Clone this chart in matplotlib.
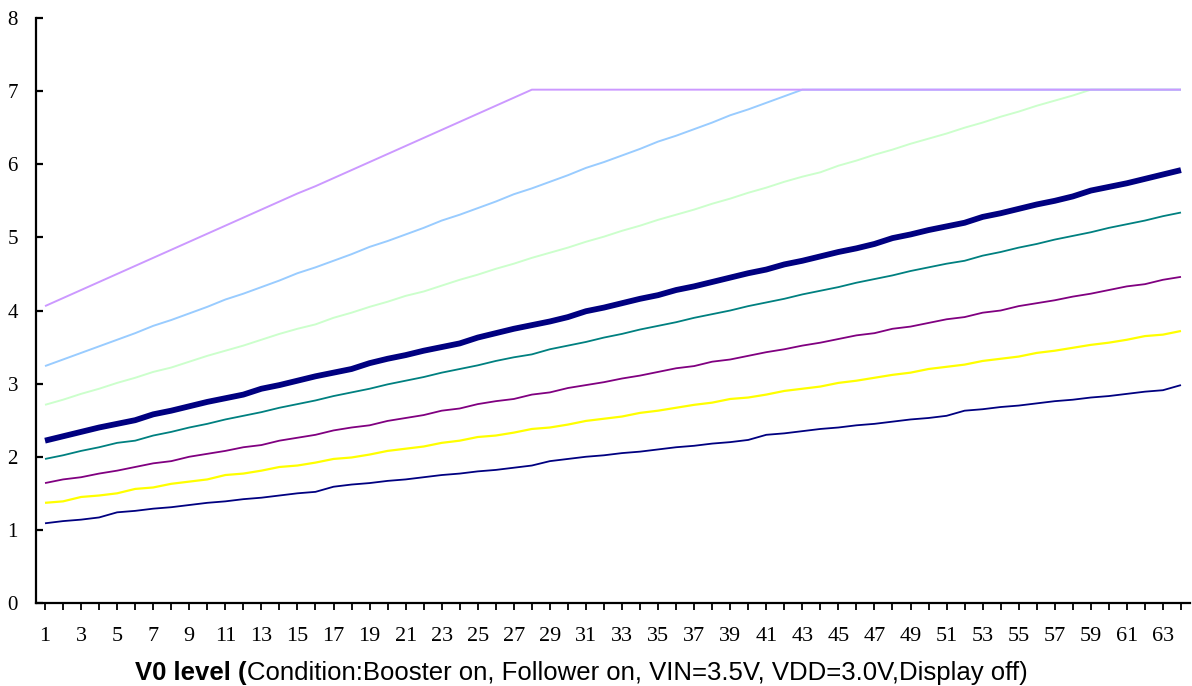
import matplotlib
matplotlib.use("Agg")
import matplotlib.pyplot as plt
from matplotlib.ticker import FixedLocator, FixedFormatter

levels = list(range(1, 65))

s_navy_thin = [1.09, 1.12, 1.14, 1.17, 1.24, 1.26, 1.29, 1.31, 1.34, 1.37, 1.39, 1.42, 1.44, 1.47, 1.50, 1.52,
               1.59, 1.62, 1.64, 1.67, 1.69, 1.72, 1.75, 1.77, 1.80, 1.82, 1.85, 1.88, 1.94, 1.97, 2.00, 2.02,
               2.05, 2.07, 2.10, 2.13, 2.15, 2.18, 2.20, 2.23, 2.30, 2.32, 2.35, 2.38, 2.40, 2.43, 2.45, 2.48,
               2.51, 2.53, 2.56, 2.63, 2.65, 2.68, 2.70, 2.73, 2.76, 2.78, 2.81, 2.83, 2.86, 2.89, 2.91, 2.98]
s_yellow = [1.37, 1.39, 1.45, 1.47, 1.50, 1.56, 1.58, 1.63, 1.66, 1.69, 1.75, 1.77, 1.81, 1.86, 1.88, 1.92,
            1.97, 1.99, 2.03, 2.08, 2.11, 2.14, 2.19, 2.22, 2.27, 2.29, 2.33, 2.38, 2.40, 2.44, 2.49, 2.52,
            2.55, 2.60, 2.63, 2.67, 2.71, 2.74, 2.79, 2.81, 2.85, 2.90, 2.93, 2.96, 3.01, 3.04, 3.08, 3.12,
            3.15, 3.20, 3.23, 3.26, 3.31, 3.34, 3.37, 3.42, 3.45, 3.49, 3.53, 3.56, 3.60, 3.65, 3.67, 3.72]
s_purple = [1.64, 1.69, 1.72, 1.77, 1.81, 1.86, 1.91, 1.94, 2.00, 2.04, 2.08, 2.13, 2.16, 2.22, 2.26, 2.30,
            2.36, 2.40, 2.43, 2.49, 2.53, 2.57, 2.63, 2.66, 2.72, 2.76, 2.79, 2.85, 2.88, 2.94, 2.98, 3.02,
            3.07, 3.11, 3.16, 3.21, 3.24, 3.30, 3.33, 3.38, 3.43, 3.47, 3.52, 3.56, 3.61, 3.66, 3.69, 3.75,
            3.78, 3.83, 3.88, 3.91, 3.97, 4.00, 4.06, 4.10, 4.14, 4.19, 4.23, 4.28, 4.33, 4.36, 4.42, 4.46]
s_teal = [1.97, 2.02, 2.08, 2.13, 2.19, 2.22, 2.29, 2.34, 2.40, 2.45, 2.51, 2.56, 2.61, 2.67, 2.72, 2.77,
          2.83, 2.88, 2.93, 2.99, 3.04, 3.09, 3.15, 3.20, 3.25, 3.31, 3.36, 3.40, 3.47, 3.52, 3.57, 3.63,
          3.68, 3.74, 3.79, 3.84, 3.90, 3.95, 4.00, 4.06, 4.11, 4.16, 4.22, 4.27, 4.32, 4.38, 4.43, 4.48,
          4.54, 4.59, 4.64, 4.68, 4.75, 4.80, 4.86, 4.91, 4.97, 5.02, 5.07, 5.13, 5.18, 5.23, 5.29, 5.34]
s_navy_thick = [2.22, 2.28, 2.34, 2.40, 2.45, 2.50, 2.58, 2.63, 2.69, 2.75, 2.80, 2.85, 2.93, 2.98, 3.04, 3.10,
                3.15, 3.20, 3.28, 3.34, 3.39, 3.45, 3.50, 3.55, 3.63, 3.69, 3.75, 3.80, 3.85, 3.91, 3.99, 4.04,
                4.10, 4.16, 4.21, 4.28, 4.33, 4.39, 4.45, 4.51, 4.56, 4.63, 4.68, 4.74, 4.80, 4.85, 4.91, 4.99,
                5.04, 5.10, 5.15, 5.20, 5.28, 5.33, 5.39, 5.45, 5.50, 5.56, 5.64, 5.69, 5.74, 5.80, 5.86, 5.92]
s_lightgreen = [2.71, 2.78, 2.86, 2.93, 3.01, 3.08, 3.16, 3.22, 3.30, 3.38, 3.45, 3.52, 3.60, 3.68, 3.75, 3.81,
                3.90, 3.97, 4.05, 4.12, 4.20, 4.26, 4.34, 4.42, 4.49, 4.57, 4.64, 4.72, 4.79, 4.86, 4.94, 5.01,
                5.09, 5.16, 5.24, 5.31, 5.38, 5.46, 5.53, 5.61, 5.68, 5.76, 5.83, 5.89, 5.98, 6.05, 6.13, 6.20,
                6.28, 6.35, 6.42, 6.50, 6.57, 6.65, 6.72, 6.80, 6.87, 6.94, 7.02, 7.02, 7.02, 7.02, 7.02, 7.02]
s_lightblue = [3.24, 3.33, 3.42, 3.51, 3.60, 3.69, 3.79, 3.87, 3.96, 4.05, 4.15, 4.23, 4.32, 4.41, 4.51, 4.59,
               4.68, 4.77, 4.87, 4.95, 5.04, 5.13, 5.23, 5.31, 5.40, 5.49, 5.59, 5.67, 5.76, 5.85, 5.95, 6.03,
               6.12, 6.21, 6.31, 6.39, 6.48, 6.57, 6.67, 6.75, 6.84, 6.93, 7.02, 7.02, 7.02, 7.02, 7.02, 7.02,
               7.02, 7.02, 7.02, 7.02, 7.02, 7.02, 7.02, 7.02, 7.02, 7.02, 7.02, 7.02, 7.02, 7.02, 7.02, 7.02]
s_lavender = [4.06, 4.17, 4.28, 4.39, 4.50, 4.61, 4.72, 4.83, 4.94, 5.05, 5.16, 5.27, 5.38, 5.49, 5.60, 5.70,
              5.81, 5.92, 6.03, 6.14, 6.25, 6.36, 6.47, 6.58, 6.69, 6.80, 6.91, 7.02, 7.02, 7.02, 7.02, 7.02,
              7.02, 7.02, 7.02, 7.02, 7.02, 7.02, 7.02, 7.02, 7.02, 7.02, 7.02, 7.02, 7.02, 7.02, 7.02, 7.02,
              7.02, 7.02, 7.02, 7.02, 7.02, 7.02, 7.02, 7.02, 7.02, 7.02, 7.02, 7.02, 7.02, 7.02, 7.02, 7.02]

series = [
    (s_navy_thin, "#000080", 1.3),
    (s_yellow, "#FFFF00", 1.6),
    (s_purple, "#800080", 1.3),
    (s_teal, "#008080", 1.3),
    (s_navy_thick, "#000080", 4.2),
    (s_lightgreen, "#CCFFCC", 1.4),
    (s_lightblue, "#99CCFF", 1.4),
    (s_lavender, "#CC99FF", 1.4),
]

y_ticks = [0, 1, 2, 3, 4, 5, 6, 7, 8]
x_label_bold = "V0 level ("
x_label_rest = "Condition:Booster on, Follower on, VIN=3.5V, VDD=3.0V,Display off)"

W, H = 1192, 686
fig = plt.figure(figsize=(W / 100, H / 100), dpi=100)
ax = fig.add_axes([36 / W, 1 - 603 / H, (1190 - 36) / W, (603 - 18) / H])

for vals, col, lw in series:
    ax.plot(levels, vals, color=col, lw=lw, solid_joinstyle="round", solid_capstyle="butt")

ax.set_xlim(0.5, 64.5)
ax.set_ylim(0, 8)
for s in ["top", "right"]:
    ax.spines[s].set_visible(False)
for s in ["left", "bottom"]:
    ax.spines[s].set_linewidth(1.6)

ax.set_yticks(y_ticks)
ax.set_yticklabels([str(t) for t in y_ticks], fontfamily="Liberation Serif", fontsize=15)
ax.tick_params(axis="y", direction="in", length=5, width=1.6, pad=13)

ax.xaxis.set_major_locator(FixedLocator(levels))
ax.xaxis.set_major_formatter(FixedFormatter([str(v) if v % 2 == 1 else "" for v in levels]))
ax.tick_params(axis="x", direction="out", length=5, width=1.3, pad=12)
for lab in ax.get_xticklabels():
    lab.set_fontfamily("Liberation Serif")
    lab.set_fontsize(16)

# Mixed-weight x-axis title
fig.canvas.draw()
r = fig.canvas.get_renderer()
fs = 18.5
tb = fig.text(0, 0, x_label_bold, fontfamily="Liberation Sans", fontweight="bold", fontsize=fs)
tr = fig.text(0, 0, x_label_rest, fontfamily="Liberation Sans", fontsize=fs)
wb = tb.get_window_extent(r).width
wr = tr.get_window_extent(r).width
cx = 581.5
x0 = cx - (wb + wr) / 2
ypix = 686 - 680
tb.set_position((x0 / W, ypix / H))
tr.set_position(((x0 + wb) / W, ypix / H))

fig.savefig("out.png", dpi=100, facecolor="white")
